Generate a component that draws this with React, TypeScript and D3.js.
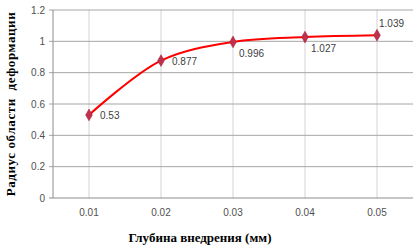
import React from "react";
import * as d3 from "d3";

const categories = ["0.01", "0.02", "0.03", "0.04", "0.05"];
const values = [0.53, 0.877, 0.996, 1.027, 1.039];
const yTicks = [0, 0.2, 0.4, 0.6, 0.8, 1, 1.2];
const labelPos = ["right", "right", "below", "below", "above"];

export default function App() {
  const W = 418, H = 246;
  const left = 53, right = 413, top = 10, bottom = 198;
  const x = d3.scaleBand<string>().domain(categories).range([left, right]);
  const y = d3.scaleLinear().domain([0, 1.2]).range([bottom, top]);
  const cx = (c: string) => (x(c) as number) + x.bandwidth() / 2;
  const pts: [number, number][] = categories.map((c, i) => [cx(c), y(values[i])]);
  const line = d3.line().curve(d3.curveCatmullRom.alpha(0.5))(pts) as string;
  const diamond = d3.symbol().type(d3.symbolDiamond).size(40)() as string;
  const tickFont = "'Liberation Sans', Arial, sans-serif";
  return (
    <svg width={W} height={H} style={{ position: "absolute", left: 0, top: 0, background: "#fff" }}>
      {categories.map((c) => (
        <line key={"v" + c} x1={cx(c)} x2={cx(c)} y1={top} y2={bottom} stroke="#d4d4d4" strokeWidth={1} />
      ))}
      {yTicks.map((t) => (
        <g key={"h" + t}>
          <line x1={left - 4} x2={right} y1={y(t)} y2={y(t)} stroke={t === 0 ? "#8c8c8c" : "#a6a6a6"} strokeWidth={1} />
          <text x={left - 8} y={y(t)} dy="0.35em" textAnchor="end" fontSize={10} fill="#505050" fontFamily={tickFont}>
            {t === 0 ? "0" : String(t)}
          </text>
        </g>
      ))}
      <line x1={left} x2={left} y1={top} y2={bottom} stroke="#8c8c8c" strokeWidth={1} />
      {categories.map((c) => (
        <text key={"xt" + c} x={cx(c)} y={bottom + 18} textAnchor="middle" fontSize={10} fill="#505050" fontFamily={tickFont}>
          {c}
        </text>
      ))}
      <path d={line} fill="none" stroke="#ff0000" strokeWidth={2} />
      {pts.map((p, i) => (
        <path key={"m" + i} d={diamond} transform={`translate(${p[0]},${p[1]})`} fill="#c0304a" stroke="#a02040" strokeWidth={0.5} />
      ))}
      {pts.map((p, i) => {
        const pos = labelPos[i];
        let tx = p[0], ty = p[1];
        if (pos === "right") { tx = p[0] + 11; ty = p[1] + 4; }
        else if (pos === "below") { tx = p[0] + 6; ty = p[1] + 15; }
        else { tx = p[0] + 2; ty = p[1] - 8; }
        return (
          <text key={"l" + i} x={tx} y={ty} fontSize={10} fill="#404040" fontFamily={tickFont}>
            {String(values[i])}
          </text>
        );
      })}
      <text x={200} y={242} textAnchor="middle" fontSize={13} fontWeight="bold" fontFamily="'Liberation Serif', 'Times New Roman', serif" fill="#000">
        Глубина внедрения (мм)
      </text>
      <text transform={`translate(15,104) rotate(-90)`} textAnchor="middle" fontSize={13} fontWeight="bold" letterSpacing={0.6} fontFamily="'Liberation Serif', 'Times New Roman', serif" fill="#000" style={{ whiteSpace: "pre" }}>
        {"Радиус области  деформации"}
      </text>
    </svg>
  );
}
